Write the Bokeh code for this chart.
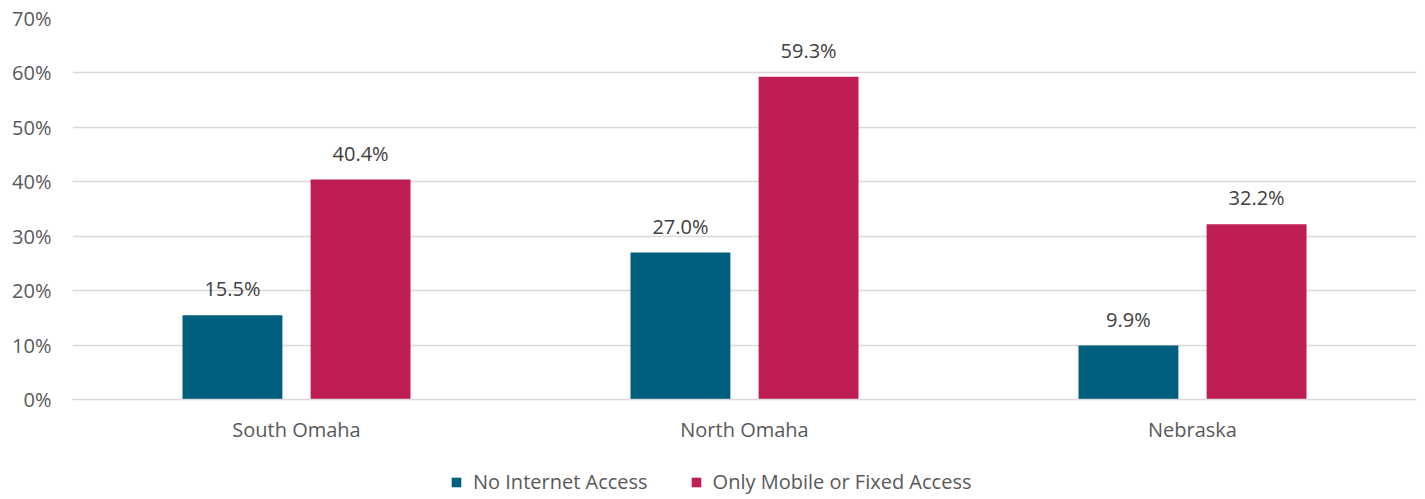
from bokeh.plotting import figure
from bokeh.layouts import column
from bokeh.models import ColumnDataSource, FactorRange, Range1d, Legend, LegendItem, PrintfTickFormatter, FixedTicker
from bokeh.transform import dodge
from bokeh.core.properties import value
from bokeh.embed import file_html
from bokeh.resources import INLINE

categories = ["South Omaha", "North Omaha", "Nebraska"]
no_internet = [15.5, 27.0, 9.9]
mobile_fixed = [40.4, 59.3, 32.2]
series_names = ["No Internet Access", "Only Mobile or Fixed Access"]
y_ticks = [0, 10, 20, 30, 40, 50, 60, 70]

BLUE = "#005F7E"
RED = "#BE1E52"
FONT = "Open Sans"
TXT = "#595959"

src = ColumnDataSource(dict(
    cat=categories,
    a=no_internet,
    b=mobile_fixed,
    a_lab=["%.1f%%" % v for v in no_internet],
    b_lab=["%.1f%%" % v for v in mobile_fixed],
))

p = figure(x_range=FactorRange(*categories, range_padding=0), y_range=Range1d(0, 70),
           width=1425, height=455, output_backend="svg", toolbar_location=None,
           min_border_left=72, min_border_right=9, min_border_top=18, min_border_bottom=56)
p.outline_line_color = None
p.background_fill_color = "white"
p.border_fill_color = "white"

off = 0.143
w = 0.223
ra = p.vbar(x=dodge("cat", -off, range=p.x_range), top="a", width=w, source=src,
            fill_color=BLUE, line_color=None)
rb = p.vbar(x=dodge("cat", off, range=p.x_range), top="b", width=w, source=src,
            fill_color=RED, line_color=None)

for col, lab, o in (("a", "a_lab", -off), ("b", "b_lab", off)):
    p.text(x=dodge("cat", o, range=p.x_range), y=col, text=lab, source=src,
           text_align="center", text_baseline="bottom", y_offset=-13,
           text_font=value(FONT), text_font_size="20px", text_color="#404040")

p.xgrid.grid_line_color = None
p.ygrid.grid_line_color = "#D9D9D9"
p.ygrid.grid_line_width = 1.5
p.yaxis.ticker = FixedTicker(ticks=y_ticks)
p.yaxis.formatter = PrintfTickFormatter(format="%d%%")
for ax in (p.xaxis[0], p.yaxis[0]):
    ax.major_tick_line_color = None
    ax.minor_tick_line_color = None
    ax.major_tick_out = 0
    ax.major_tick_in = 0
    ax.major_label_text_font = FONT
    ax.major_label_text_font_size = "20px"
    ax.major_label_text_color = TXT
p.yaxis.axis_line_color = None
p.yaxis.major_label_standoff = 21
p.xaxis.axis_line_color = "#D9D9D9"
p.xaxis.axis_line_width = 1.5
p.xaxis.major_label_standoff = 16

# legend strip below the chart (legend renderers hidden: zero width, outside view)
p2 = figure(width=1425, height=44, x_range=FactorRange(*categories, range_padding=0),
            y_range=Range1d(1000, 1010),
            output_backend="svg", toolbar_location=None,
            min_border=0, min_border_left=0, min_border_right=0,
            min_border_top=0, min_border_bottom=0)
p2.axis.visible = False
p2.grid.visible = False
p2.outline_line_color = None
la = p2.vbar(x="cat", top="a", width=0, source=src, fill_color=BLUE, line_color=None)
lb = p2.vbar(x="cat", top="b", width=0, source=src, fill_color=RED, line_color=None)
legend = Legend(items=[LegendItem(label=series_names[0], renderers=[la]),
                       LegendItem(label=series_names[1], renderers=[lb])],
                orientation="horizontal", location=(378, 4))
legend.label_text_font = FONT
legend.label_text_font_size = "20px"
legend.label_text_color = TXT
legend.glyph_width = 12
legend.glyph_height = 12
legend.label_standoff = 11
legend.spacing = 42
legend.padding = 0
legend.margin = 0
legend.border_line_color = None
legend.background_fill_alpha = 0
p2.add_layout(legend, "center")

layout = column(p, p2, spacing=0)
open("out.html", "w").write(file_html(layout, INLINE))
